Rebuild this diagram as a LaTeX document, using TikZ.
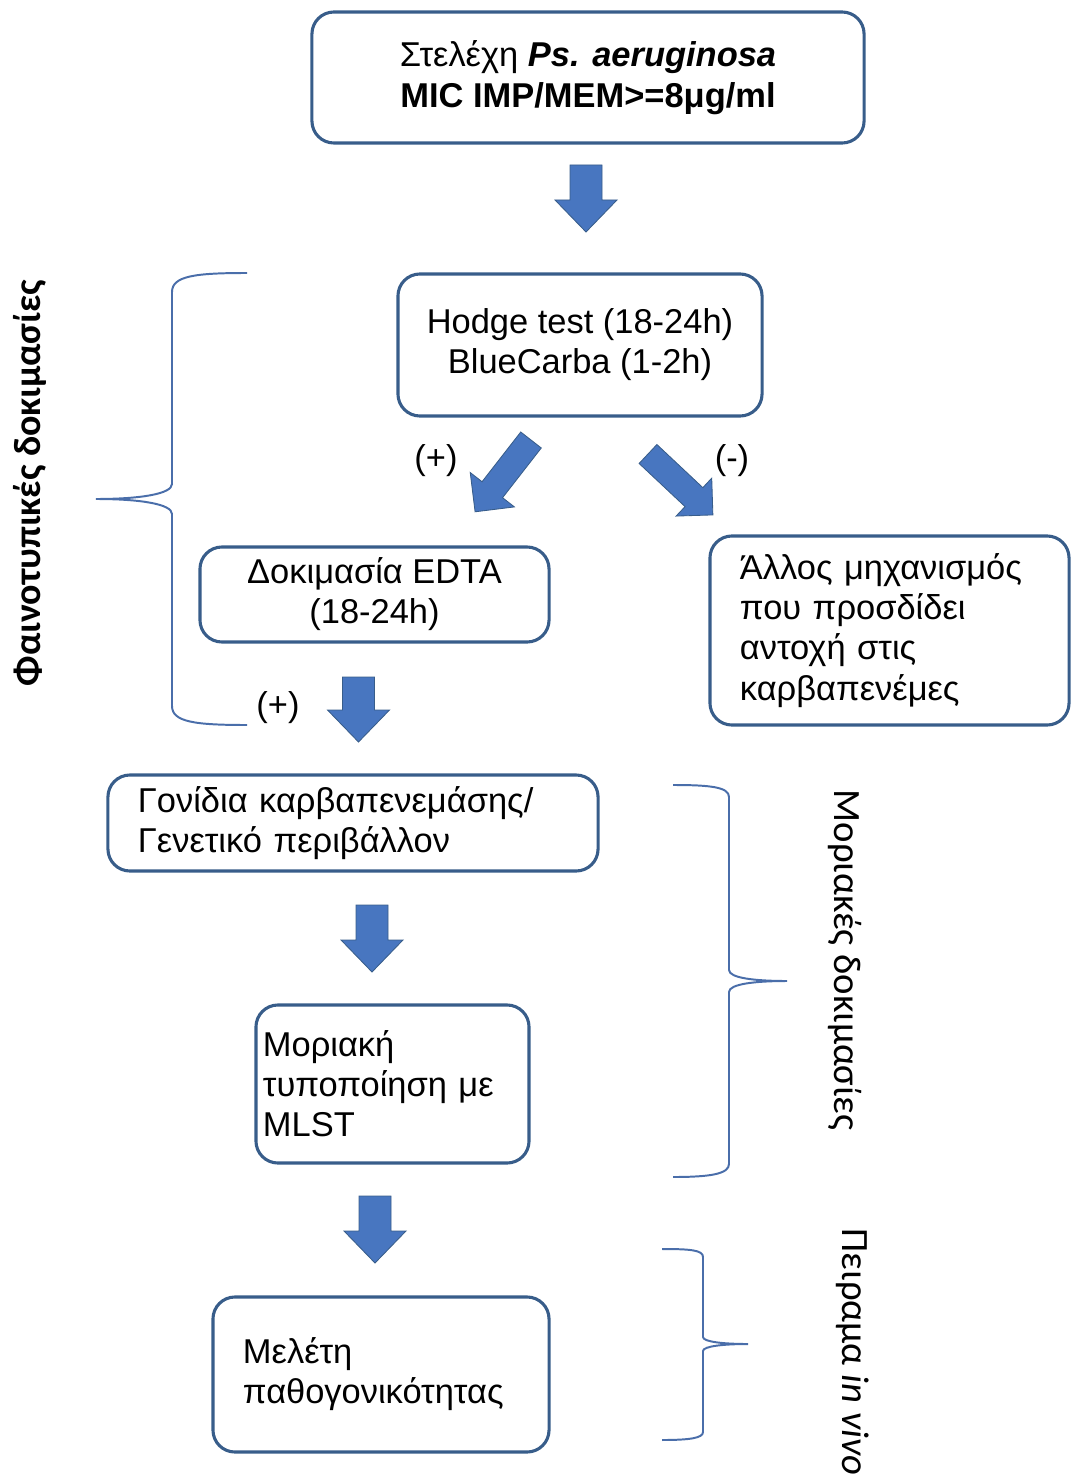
\documentclass[tikz,border=0pt]{standalone}
\usepackage{fontspec}
\setmainfont{Liberation Sans}
\newfontfamily\calibri{Carlito}
\definecolor{boxblue}{RGB}{56,93,138}
\definecolor{arrowblue}{RGB}{72,118,192}
\definecolor{braceblue}{RGB}{74,110,170}
\begin{document}
\begin{tikzpicture}[x=0.025cm, y=0.025cm,
  box/.style={draw=boxblue, line width=2.2pt, rounded corners=0.55cm, fill=white, inner sep=0pt, font=\fontsize{24.5}{28.5}\selectfont},
  leftbox/.style={box, align=left, inner ysep=0pt},
  sign/.style={font=\fontsize{24.5}{28}\selectfont, inner sep=0pt},
  brace/.style={draw=braceblue, line width=1.4pt},
  pics/blockarr/.style n args={4}{code={
    \draw[fill=arrowblue, draw=boxblue, line width=0.6pt, line join=miter]
      (0,-#2) -- ({#1-#4},-#2) -- ({#1-#4},-#3) -- (#1,0) -- ({#1-#4},#3) -- ({#1-#4},#2) -- (0,#2) -- cycle;}}]
\useasboundingbox (0,0) rectangle (1071,-1477);

\node[box, minimum width=13.8cm, minimum height=3.275cm, align=center, font=\fontsize{24.5}{29.5}\selectfont] (strains) at (588,-77.5) {Στελέχη \textbf{\textit{Ps. aeruginosa}}\\ \textbf{MIC IMP/MEM>=8μg/ml}};
\node[box, minimum width=9.1cm, minimum height=3.55cm, align=center] (hodge) at (580,-345) {Hodge test (18-24h)\\ BlueCarba (1-2h)};
\node[box, minimum width=8.725cm, minimum height=2.375cm, align=center] (edta) at (374.5,-594.5) {Δοκιμασία EDTA\\ (18-24h)};
\node[leftbox, minimum height=4.725cm, inner xsep=0.75cm, text width=7.475cm] (other) at (889.5,-630.5) {Άλλος μηχανισμός\\ που προσδίδει\\ αντοχή στις\\ καρβαπενέμες};
\node[leftbox, minimum height=2.4cm, inner xsep=0.75cm, text width=10.75cm] (genes) at (353,-823) {Γονίδια καρβαπενεμάσης/\\ Γενετικό περιβάλλον};
\node[leftbox, minimum height=3.95cm, inner xsep=0.175cm, text width=6.475cm] (mlst) at (392.5,-1084) {Μοριακή\\ τυποποίηση με\\ MLST};
\node[leftbox, minimum height=3.875cm, inner xsep=0.75cm, text width=6.9cm] (study) at (381,-1374.5) {Μελέτη\\ παθογονικότητας};

\pic[rotate=-90] at (586,-165) {blockarr={67}{16}{31}{32}};
\pic[rotate=-127.9] at (531,-440) {blockarr={91}{13}{28}{28}};
\pic[rotate=-43.2] at (648,-454) {blockarr={89}{13}{26}{26}};
\pic[rotate=-90] at (358.5,-677) {blockarr={65}{16}{31}{32}};
\pic[rotate=-90] at (372,-905) {blockarr={67}{16}{31}{32}};
\pic[rotate=-90] at (375,-1196) {blockarr={67}{16}{31}{32}};

\node[sign] (pos1) at (436,-461) {(+)};
\node[sign] (neg1) at (732,-461) {(-)};
\node[sign] (pos2) at (278,-708) {(+)};

\draw[brace] (247,-273) .. controls (195,-273) and (172,-276) .. (172,-292) -- (172,-484)
  .. controls (172,-494) and (140,-499) .. (96,-499) .. controls (140,-499) and (172,-504) .. (172,-514)
  -- (172,-706) .. controls (172,-722) and (195,-725) .. (247,-725);
\draw[brace] (673,-785) .. controls (710,-785) and (729,-787) .. (729,-797) -- (729,-970)
  .. controls (729,-978) and (755,-981) .. (787,-981) .. controls (755,-981) and (729,-984) .. (729,-992)
  -- (729,-1164) .. controls (729,-1174) and (710,-1177) .. (673,-1177);
\draw[brace] (662,-1249) .. controls (690,-1249) and (703,-1250) .. (703,-1257) -- (703,-1337)
  .. controls (703,-1342) and (725,-1344) .. (748,-1344) .. controls (725,-1344) and (703,-1346) .. (703,-1351)
  -- (703,-1432) .. controls (703,-1438) and (690,-1440) .. (662,-1440);

\node[rotate=90, font=\calibri\bfseries\fontsize{27}{32}\selectfont] (pheno) at (30,-483) {Φαινοτυπικές δοκιμασίες};
\node[rotate=-90, font=\calibri\fontsize{27.5}{32}\selectfont] (molec) at (845,-960) {Μοριακές δοκιμασίες};
\node[rotate=-90, font=\calibri\fontsize{27.5}{32}\selectfont] (invivo) at (853,-1352) {Πειραμα \textit{in vivo}};
\end{tikzpicture}
\end{document}
